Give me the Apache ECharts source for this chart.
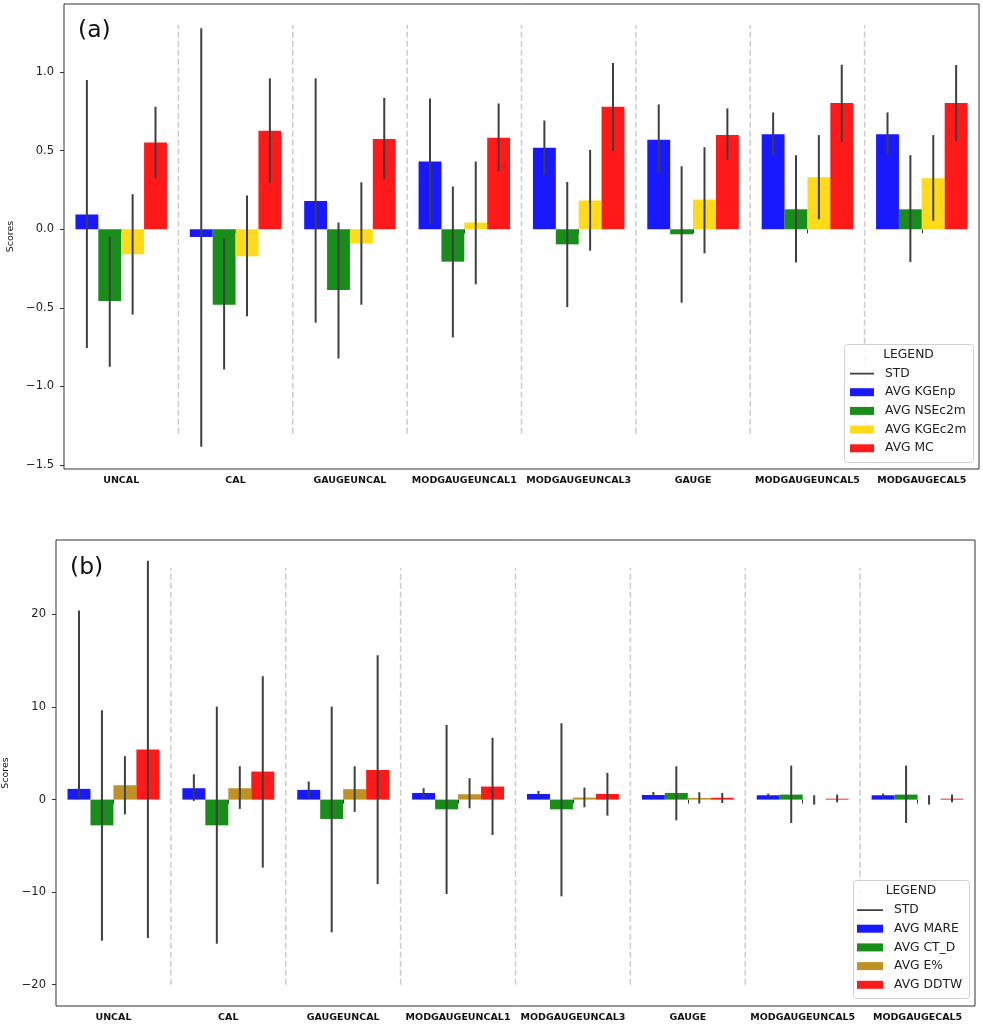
<!DOCTYPE html>
<html><head><meta charset="utf-8">
<script src="https://cdn.jsdelivr.net/npm/echarts@6/dist/echarts.min.js"></script>
<style>html,body{margin:0;padding:0;background:#fff}#c{width:983px;height:1024px}</style>
</head><body><div id="c"></div>
<script>
const categories = ['UNCAL','CAL','GAUGEUNCAL','MODGAUGEUNCAL1','MODGAUGEUNCAL3','GAUGE','MODGAUGEUNCAL5','MODGAUGECAL5'];

// ---- panel (a) ----
const namesA = ['AVG KGEnp','AVG NSEc2m','AVG KGEc2m','AVG MC'];
const kgenpAvg  = [0.094, -0.049, 0.180, 0.431, 0.518, 0.569, 0.605, 0.605];
const kgenpLo   = [-0.756, -1.384, -0.594, 0.032, 0.346, 0.355, 0.473, 0.473];
const kgenpHi   = [0.950, 1.278, 0.960, 0.832, 0.692, 0.794, 0.743, 0.743];
const nsec2mAvg = [-0.457, -0.480, -0.387, -0.206, -0.096, -0.032, 0.127, 0.127];
const nsec2mLo  = [-0.875, -0.892, -0.822, -0.688, -0.495, -0.467, -0.212, -0.208];
const nsec2mHi  = [-0.047, -0.059, 0.043, 0.272, 0.301, 0.401, 0.471, 0.471];
const kgec2mAvg = [-0.159, -0.172, -0.091, 0.043, 0.183, 0.189, 0.331, 0.325];
const kgec2mLo  = [-0.543, -0.554, -0.480, -0.350, -0.136, -0.153, 0.064, 0.055];
const kgec2mHi  = [0.223, 0.215, 0.299, 0.431, 0.505, 0.522, 0.599, 0.599];
const mcAvg     = [0.552, 0.626, 0.575, 0.582, 0.779, 0.599, 0.803, 0.803];
const mcLo      = [0.325, 0.295, 0.318, 0.369, 0.497, 0.440, 0.556, 0.559];
const mcHi      = [0.779, 0.960, 0.836, 0.800, 1.057, 0.769, 1.047, 1.045];
const ticksA = [-1.5, -1.0, -0.5, 0.0, 0.5, 1.0];

// ---- panel (b) ----
const namesB = ['AVG MARE','AVG CT_D','AVG E%','AVG DDTW'];
const mareAvg = [1.16, 1.23, 1.05, 0.72, 0.61, 0.50, 0.47, 0.47];
const mareLo  = [0.20, -0.14, 0.14, 0.14, 0.32, 0.32, 0.29, 0.29];
const mareHi  = [20.43, 2.74, 1.95, 1.23, 0.94, 0.83, 0.65, 0.65];
const ctdAvg  = [-2.78, -2.78, -2.09, -1.05, -1.05, 0.72, 0.54, 0.54];
const ctdLo   = [-15.24, -15.57, -14.34, -10.20, -10.45, -2.24, -2.53, -2.53];
const ctdHi   = [9.66, 10.05, 10.05, 8.07, 8.25, 3.60, 3.68, 3.68];
const ePctAvg = [1.55, 1.23, 1.13, 0.58, 0.22, 0.18, 0.0, 0.0];
const ePctLo  = [-1.59, -1.01, -1.33, -0.94, -0.83, -0.43, -0.54, -0.54];
const ePctHi  = [4.69, 3.61, 3.60, 2.31, 1.30, 0.80, 0.47, 0.47];
const ddtwAvg = [5.42, 3.03, 3.20, 1.41, 0.61, 0.20, 0.10, 0.10];
const ddtwLo  = [-14.95, -7.35, -9.12, -3.83, -1.73, -0.36, -0.29, -0.29];
const ddtwHi  = [25.80, 13.33, 15.60, 6.68, 2.89, 0.72, 0.54, 0.54];
const ticksB = [-20, -10, 0, 10, 20];

// separator extents (data units)
const sepA = [-1.3, 1.3];
const sepB = [-20, 25];

const FONT = 'DejaVu Sans';
const colorsA = ['#1919ff', '#198d19', '#ffdb19', '#ff1919'];
const colorsB = ['#1919ff', '#198d19', '#bf9223', '#ff1919'];
const ERR = '#3f3f3f';

const avgA = [kgenpAvg, nsec2mAvg, kgec2mAvg, mcAvg];
const loA = [kgenpLo, nsec2mLo, kgec2mLo, mcLo];
const hiA = [kgenpHi, nsec2mHi, kgec2mHi, mcHi];
const avgB = [mareAvg, ctdAvg, ePctAvg, ddtwAvg];
const loB = [mareLo, ctdLo, ePctLo, ddtwLo];
const hiB = [mareHi, ctdHi, ePctHi, ddtwHi];

function errData(lo, hi) {
  const d = [];
  for (let s = 0; s < lo.length; s++)
    for (let i = 0; i < categories.length; i++) d.push([i, s, lo[s][i], hi[s][i]]);
  return d;
}
function errRender(params, api) {
  const cat = api.value(0), s = api.value(1);
  const band = api.size([1, 0])[0];
  const bw = band * 0.8 / 4;
  const cx = api.coord([cat, 0])[0] + (s - 1.5) * bw;
  const y1 = api.coord([cat, api.value(2)])[1];
  const y2 = api.coord([cat, api.value(3)])[1];
  return { type: 'line', shape: { x1: cx, y1: y1, x2: cx, y2: y2 },
           style: { stroke: ERR, lineWidth: 2 } };
}
function sepRender(range) {
  return function (params, api) {
    const i = api.value(0);
    const band = api.size([1, 0])[0];
    const x = api.coord([i, 0])[0] - band / 2;
    const y1 = api.coord([i, range[0]])[1];
    const y2 = api.coord([i, range[1]])[1];
    return { type: 'line', shape: { x1: x, y1: y1, x2: x, y2: y2 },
             style: { stroke: '#cccccc', lineWidth: 1.5, lineDash: [6, 3] } };
  };
}
const sepData = [[1], [2], [3], [4], [5], [6], [7]];
const fmt = (dec) => (v) => (v < 0 ? '\u2212' : '') + Math.abs(v).toFixed(dec);

function xAxis(g) {
  return { type: 'category', gridIndex: g, data: categories, boundaryGap: true,
    axisLine: { show: false },
    axisTick: { show: true, alignWithLabel: true, length: 4, lineStyle: { color: '#333' } },
    axisLabel: { interval: 0, fontSize: 9.5, fontWeight: 'bold', color: '#111', fontFamily: FONT, margin: 7 },
    splitLine: { show: false } };
}
function yAxis(g, min, max, ticks, dec, gap) {
  return { type: 'value', gridIndex: g, min: min, max: max,
    axisLine: { show: false },
    axisTick: { show: true, length: 4, customValues: ticks, lineStyle: { color: '#333' } },
    axisLabel: { customValues: ticks, formatter: fmt(dec), fontSize: 11.5, color: '#222', fontFamily: FONT, margin: 10 },
    splitLine: { show: false },
    name: 'Scores', nameLocation: 'middle', nameGap: gap, nameRotate: 90,
    nameTextStyle: { fontSize: 9.5, color: '#111', fontFamily: FONT } };
}

const series = [];
for (let s = 0; s < 4; s++) {
  series.push({ type: 'bar', name: namesA[s], xAxisIndex: 0, yAxisIndex: 0, data: avgA[s],
    barGap: '0%', barCategoryGap: '20%', itemStyle: { color: colorsA[s] }, z: 2, animation: false });
}
for (let s = 0; s < 4; s++) {
  series.push({ type: 'bar', name: namesB[s], xAxisIndex: 1, yAxisIndex: 1, data: avgB[s],
    barGap: '0%', barCategoryGap: '20%', itemStyle: { color: colorsB[s] }, z: 2, animation: false });
}
series.push({ type: 'custom', name: 'STD', xAxisIndex: 0, yAxisIndex: 0, data: errData(loA, hiA),
  renderItem: errRender, encode: { x: 0, y: [2, 3] }, itemStyle: { color: ERR }, z: 5, animation: false });
series.push({ type: 'custom', name: 'STD', xAxisIndex: 1, yAxisIndex: 1, data: errData(loB, hiB),
  renderItem: errRender, encode: { x: 0, y: [2, 3] }, itemStyle: { color: ERR }, z: 5, animation: false });
series.push({ type: 'custom', name: 'sepA', xAxisIndex: 0, yAxisIndex: 0, data: sepData,
  renderItem: sepRender(sepA), encode: { x: 0 }, z: 1, silent: true, animation: false });
series.push({ type: 'custom', name: 'sepB', xAxisIndex: 1, yAxisIndex: 1, data: sepData,
  renderItem: sepRender(sepB), encode: { x: 0 }, z: 1, silent: true, animation: false });

const stdIcon = (w) => 'path://M0,0h0.01v0.01h-0.01z M0,3.3h' + w + 'v1.6h-' + w + 'z M0,7.99h0.01v0.01h-0.01z';

function legend(names, left, top, w) {
  return { orient: 'vertical', left: left, top: top, itemWidth: w, itemHeight: 8, itemGap: 6.7,
    padding: 0, selectedMode: false,
    textStyle: { fontSize: 12.3, color: '#222', fontFamily: FONT, padding: [0, 0, 0, 6] },
    data: [{ name: 'STD', icon: stdIcon(w) }].concat(names.map(n => ({ name: n, icon: 'rect' }))) };
}

const option = {
  backgroundColor: '#fff',
  animation: false,
  grid: [
    { left: 64, top: 4, width: 915, height: 465, show: true, borderColor: '#333', borderWidth: 1, outerBoundsMode: 'none', containLabel: false },
    { left: 56, top: 540, width: 919, height: 466, show: true, borderColor: '#333', borderWidth: 1, outerBoundsMode: 'none', containLabel: false }
  ],
  xAxis: [xAxis(0), xAxis(1)],
  yAxis: [yAxis(0, -1.525, 1.433, ticksA, 1, 44), yAxis(1, -22.3, 28.05, ticksB, 0, 39)],
  legend: [legend(namesA, 850, 367.5, 24), legend(namesB, 857, 904, 26)],
  graphic: [
    { type: 'text', left: 78, top: 19, z: 10, style: { text: '(a)', fontSize: 23.5, fill: '#111', fontFamily: FONT } },
    { type: 'text', left: 70, top: 556, z: 10, style: { text: '(b)', fontSize: 23.5, fill: '#111', fontFamily: FONT } },
    { type: 'rect', left: 844, top: 344, z: 3, shape: { width: 129, height: 118, r: 3 },
      style: { fill: 'rgba(255,255,255,0.85)', stroke: '#d0d0d0', lineWidth: 1 } },
    { type: 'rect', left: 853, top: 880, z: 3, shape: { width: 116, height: 118, r: 3 },
      style: { fill: 'rgba(255,255,255,0.85)', stroke: '#d0d0d0', lineWidth: 1 } },
    { type: 'text', x: 908.5, y: 355, z: 10, style: { text: 'LEGEND', fontSize: 12.3, fill: '#222', fontFamily: FONT, align: 'center', verticalAlign: 'middle' } },
    { type: 'text', x: 911, y: 891, z: 10, style: { text: 'LEGEND', fontSize: 12.3, fill: '#222', fontFamily: FONT, align: 'center', verticalAlign: 'middle' } }
  ],
  series: series
};

const chart = echarts.init(document.getElementById('c'), null, { renderer: 'canvas' });
chart.setOption(option);
</script>
</body></html>
